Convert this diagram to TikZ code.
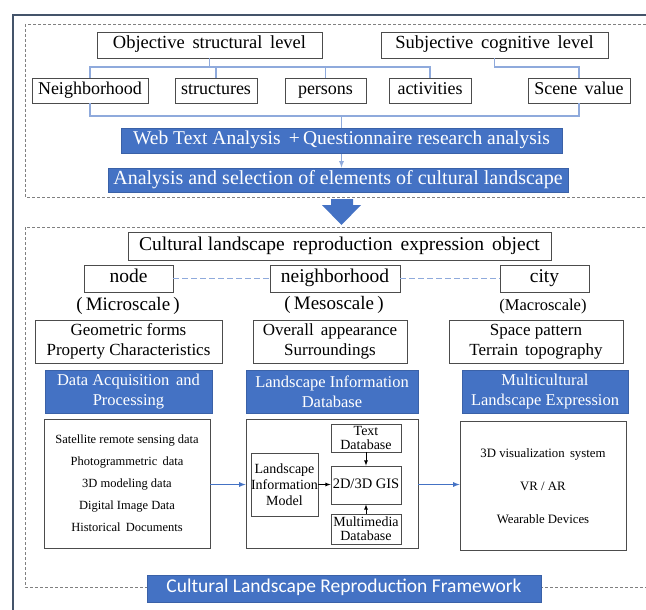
\documentclass[tikz,border=0pt]{standalone}
\usepackage{fontspec}
\setmainfont{Liberation Serif}
\newfontfamily\framefont{Carlito}
\definecolor{boxblue}{HTML}{4472C4}
\definecolor{linkblue}{HTML}{8FAADC}
\definecolor{framegray}{HTML}{44546A}
\newcommand{\fs}[2]{\fontsize{#1}{#2}\selectfont}
\tikzset{
  wbox/.style={draw=black!70,fill=white,line width=0.8pt,inner sep=0pt,align=center},
  bbox/.style={draw=boxblue!85!black,fill=boxblue,text=white,line width=0.8pt,inner sep=0pt,align=center},
  sline/.style={execute at begin node=\strut},
  link/.style={draw=linkblue,line width=1.2pt},
  frm/.style={draw=gray,dash pattern=on 3pt off 2pt,line width=0.8pt},
}

\begin{document}
\begin{tikzpicture}[x=1pt,y=-1pt]
    \useasboundingbox (0,0) rectangle (646,610);
    \clip (0,0) rectangle (646,610);
    \fill[white] (0,0) rectangle (646,610);
    \draw[framegray,line width=1.5pt] (13,15) rectangle (660,630);
    \draw[frm] (25,24) rectangle (660,197);
    \draw[frm] (25,227) rectangle (660,587);

    % levels and elements
    \node[wbox,sline,minimum width=225,minimum height=26,font=\fs{18.5}{20}] (obj) at (209.5,45) {Objective \,structural \,level};
    \node[wbox,sline,minimum width=227,minimum height=26,font=\fs{18.5}{20}] (subj) at (494.5,45) {Subjective \,cognitive \,level};
    \node[wbox,sline,minimum width=116,minimum height=25,font=\fs{18}{20}] (nbh) at (90,90.5) {Neighborhood};
    \node[wbox,sline,minimum width=82,minimum height=25,font=\fs{18}{20}] (str) at (216,90.5) {structures};
    \node[wbox,sline,minimum width=81,minimum height=25,font=\fs{18}{20}] (per) at (325.5,90.5) {persons};
    \node[wbox,sline,minimum width=82,minimum height=25,font=\fs{18}{20}] (act) at (430,90.5) {activities};
    \node[wbox,sline,minimum width=102,minimum height=25,font=\fs{18}{20}] (scn) at (579,90.5) {Scene \,value};
    \node[bbox,sline,minimum width=441,minimum height=25,font=\fs{19.5}{20}] (web) at (341.5,141) {Web Text Analysis \,+\,Questionnaire research analysis};
    \node[bbox,sline,minimum width=460,minimum height=24,font=\fs{20}{20}] (sel) at (338,180) {Analysis and selection of elements of cultural landscape};

    \coordinate (ta) at (0,67);
    \coordinate (tb) at (0,116);
    \draw[link] (nbh.north) |- (act.north |- ta) -- (act.north);
    \foreach \n in {obj.south,str.north,per.north}
        \draw[link] (\n) -- (\n |- ta);
    \draw[link] (subj.south) |- (scn.north |- ta) -- (scn.north);
    \draw[link] (nbh.south) |- (scn.south |- tb) -- (scn.south);
    \draw[link] (web.north |- tb) -- (web.north);
    \draw[link,-latex] (web.south) -- (web.south |- sel.north);

    % big arrow
    \fill[boxblue] (331,199) -- (353,199) -- (353,205) -- (361,205) -- (341.5,225) -- (322,205) -- (331,205) -- cycle;

    % reproduction object
    \node[wbox,sline,minimum width=423,minimum height=28,font=\fs{19.5}{20}] (cul) at (339.5,246) {Cultural landscape \,reproduction \,expression \,object};
    \node[wbox,sline,minimum width=89,minimum height=27,font=\fs{19.5}{20}] (nd) at (128.5,278.5) {node};
    \node[wbox,sline,minimum width=130,minimum height=27,font=\fs{19.5}{20}] (nbh2) at (335,278.5) {neighborhood};
    \node[wbox,sline,minimum width=89,minimum height=27,font=\fs{19.5}{20}] (city) at (544.5,278.5) {city};
    \draw[link,line width=0.9pt,dash pattern=on 6pt off 3pt] (nd.east) -- (nbh2.west);
    \draw[link,line width=0.9pt,dash pattern=on 6pt off 3pt] (nbh2.east) -- (city.west);
    \node[font=\fs{19}{20}] (mic) at (128,306) {(\,Microscale\,)};
    \node[font=\fs{19}{20}] (mes) at (334,305) {(\,Mesoscale\,)};
    \node[font=\fs{16.5}{18}] (mac) at (543,307) {(Macroscale)};

    \node[wbox,minimum width=187,minimum height=43,font=\fs{17}{20}] (geo) at (128.5,341.5) {Geometric forms\\Property Characteristics};
    \node[wbox,minimum width=154,minimum height=43,font=\fs{17}{20}] (ova) at (330,341.5) {Overall \,appearance\\Surroundings};
    \node[wbox,minimum width=174,minimum height=43,font=\fs{17}{20}] (spa) at (536,341.5) {Space pattern\\Terrain \,topography};

    \node[bbox,minimum width=167,minimum height=43,font=\fs{16.5}{20}] (dap) at (128.5,391.5) {Data Acquisition \,and\\Processing};
    \node[bbox,minimum width=172,minimum height=43,font=\fs{16.5}{20}] (lid) at (332,391.5) {Landscape Information\\Database};
    \node[bbox,minimum width=166,minimum height=43,font=\fs{16.5}{20}] (mle) at (545,391.5) {Multicultural\\Landscape Expression};

    % data, database, expression
    \node[wbox,minimum width=166,minimum height=129,font=\fs{12.5}{22}] (src) at (127,483.5) {Satellite remote sensing data\\Photogrammetric \,data\\3D modeling data\\Digital Image Data\\Historical \,Documents};
    \node[wbox,minimum width=172,minimum height=129] (dbs) at (332,483.5) {};
    \node[wbox,minimum width=166,minimum height=129,font=\fs{12.8}{33}] (exp) at (543,486) {3D visualization \,system\\VR / AR\\Wearable Devices};
    \node[wbox,minimum width=67,minimum height=63,font=\fs{14}{16}] (lim) at (284.5,484.5) {Landscape\\Information\\Model};
    \node[wbox,minimum width=70,minimum height=28,font=\fs{14}{14}] (tdb) at (366,438) {Text\\Database};
    \node[wbox,sline,minimum width=70,minimum height=38,font=\fs{14.5}{16}] (gis) at (366,485) {2D/3D GIS};
    \node[wbox,minimum width=70,minimum height=30,font=\fs{14}{14}] (mdb) at (366,529) {Multimedia\\Database};
    \draw[-latex,line width=0.8pt] (lim.east) -- (lim.east -| gis.west);
    \draw[-latex,line width=0.8pt] (tdb.south) -- (gis.north);
    \draw[-latex,line width=0.8pt] (mdb.north) -- (gis.south);
    \draw[-latex,draw=boxblue,line width=1.2pt] (src.east |- lim.east) -- (dbs.west |- lim.east);
    \draw[-latex,draw=boxblue,line width=1.2pt] (dbs.east |- lim.east) -- (exp.west |- lim.east);

    \node[bbox,sline,minimum width=394,minimum height=27,font=\framefont\fs{19.5}{22}] (foot) at (344,588.5) {Cultural Landscape Reproduction Framework};
\end{tikzpicture}
\end{document}
